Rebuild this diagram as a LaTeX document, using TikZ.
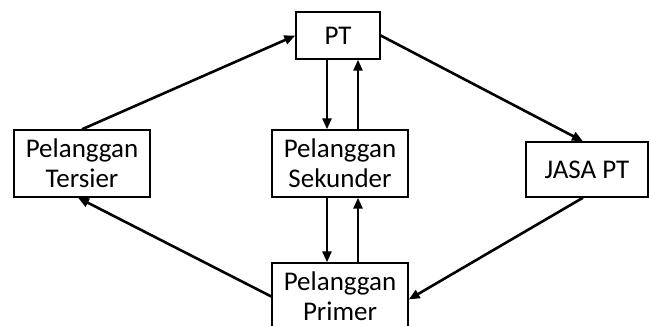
\documentclass[tikz,border=0pt]{standalone}
\usepackage{fontspec}
\setmainfont{Carlito}
\usepackage{tikz}
\usetikzlibrary{arrows.meta, positioning, calc}

\begin{document}
\begin{tikzpicture}[
    x=1pt, y=-1pt,
    every node/.style={font=\fontsize{27}{30}\selectfont},
    box/.style={draw, line width=1.4pt, inner sep=0pt, align=center},
    arrow/.style={-{Triangle[length=11pt,width=9pt]}, line width=2.6pt}
  ]
    \useasboundingbox (0,0) rectangle (649,325);
    \clip (0,0) rectangle (649,325);

    \node[box, minimum width=84pt,  minimum height=47pt] (pt)       at (338,35.5)  {PT};
    \node[box, minimum width=136pt, minimum height=67pt] (tersier)  at (82,163.5)  {Pelanggan\\Tersier};
    \node[box, minimum width=136pt, minimum height=67pt] (sekunder) at (340,163.5) {Pelanggan\\Sekunder};
    \node[box, minimum width=122pt, minimum height=55pt] (jasa)     at (587,169.5) {JASA PT};
    \node[box, minimum width=136pt, minimum height=67pt] (primer)   at (340,296.5) {Pelanggan\\Primer};

    \draw[arrow] (tersier.north) -- (pt.west);
    \draw[arrow] (pt.east) -- ([xshift=-4pt]jasa.north);
    \draw[arrow] ([xshift=-13pt]sekunder.north |- pt.south) -- ([xshift=-13pt]sekunder.north);
    \draw[arrow] ([xshift=18pt]sekunder.north) -- ([xshift=18pt]sekunder.north |- pt.south);
    \draw[arrow] ([xshift=-13pt]sekunder.south) -- ([xshift=-13pt]primer.north);
    \draw[arrow] ([xshift=18pt]primer.north) -- ([xshift=18pt]sekunder.south);
    \draw[arrow] (primer.west) -- ([xshift=-4pt]tersier.south);
    \draw[arrow] ([xshift=-4pt]jasa.south) -- ([yshift=-3pt]primer.east);

  \end{tikzpicture}
\end{document}
